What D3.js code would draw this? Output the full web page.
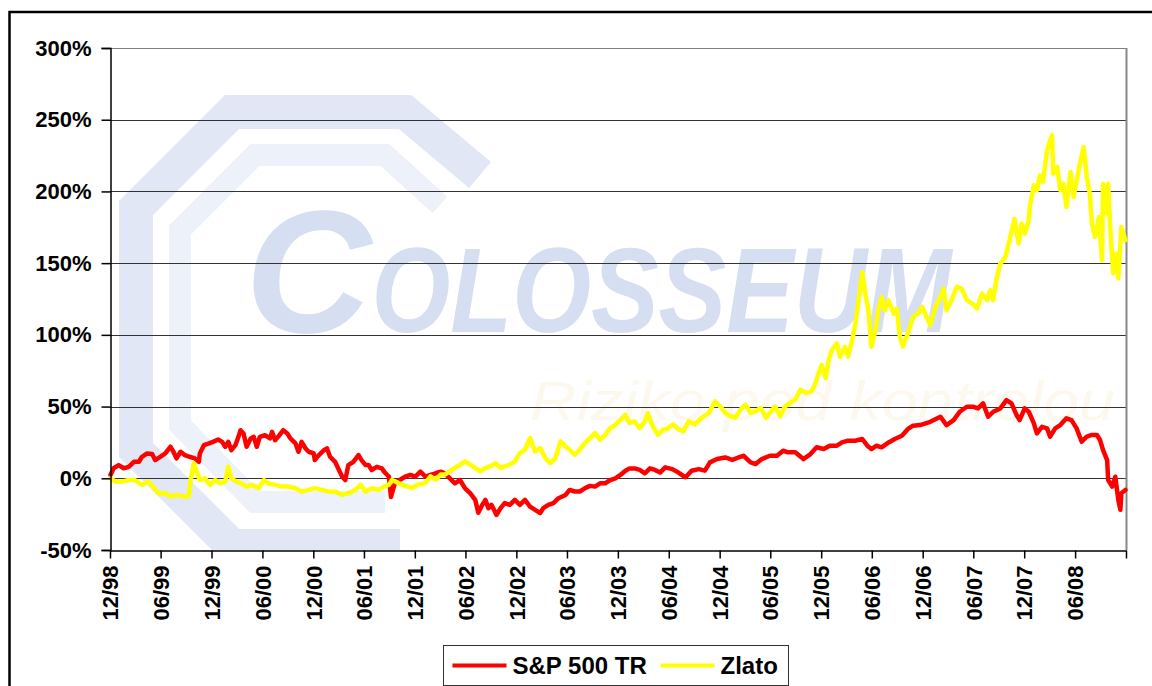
<!DOCTYPE html>
<html>
<head>
<meta charset="utf-8">
<script src="https://cdn.jsdelivr.net/npm/d3@7"></script>
<style>
  body { margin: 0; background: #fff; }
  svg { display: block; }
  text { font-family: "Liberation Sans", Arial, sans-serif; }
</style>
</head>
<body>
<svg id="chart" width="1152" height="686"></svg>
<script>
// values: [decimal year, % return]
var spxPoints = [
  [1998.92,2.3],[1998.95,7],[1999.00,9.2],[1999.05,7],[1999.10,8],[1999.15,11.5],[1999.20,11.5],[1999.23,15],
  [1999.28,17.3],[1999.33,16.9],[1999.36,12.7],[1999.41,15],[1999.46,17.3],[1999.51,22],[1999.54,18.5],[1999.57,13.9],
  [1999.61,18.5],[1999.65,16.2],[1999.70,15],[1999.75,13.9],[1999.79,11.5],[1999.80,17.3],[1999.84,23.1],[1999.89,24.3],
  [1999.93,25.4],[1999.98,27],[2000.02,25.4],[2000.05,22],[2000.08,25.4],[2000.11,19.6],[2000.15,23.1],[2000.18,28.9],
  [2000.20,33.5],[2000.23,31.2],[2000.26,22],[2000.30,27.8],[2000.33,28.9],[2000.36,22],[2000.39,28.9],[2000.44,30],
  [2000.49,27.8],[2000.51,32.4],[2000.54,26.6],[2000.57,28.9],[2000.62,33.5],[2000.66,31.2],[2000.69,27.8],[2000.74,24.3],
  [2000.77,18.5],[2000.80,25.4],[2000.84,20.8],[2000.87,18.5],[2000.92,17.3],[2000.93,12.7],[2000.97,16.2],[2001.02,19.6],
  [2001.05,20.8],[2001.08,15],[2001.13,11.5],[2001.16,6.9],[2001.20,1.1],[2001.23,-1.2],[2001.26,9.2],[2001.31,11.5],
  [2001.36,16.2],[2001.39,12.7],[2001.43,9.2],[2001.46,9.2],[2001.49,5.8],[2001.54,8],[2001.59,6.9],[2001.62,4],
  [2001.66,1.1],[2001.68,-13],[2001.72,-3],[2001.77,-1],[2001.82,1.1],[2001.87,2.3],[2001.92,1.1],[2001.97,4.6],
  [2002.02,1.1],[2002.07,2.3],[2002.12,3.5],[2002.17,4.6],[2002.21,3.5],[2002.26,0],[2002.31,-3.5],[2002.36,-1.2],
  [2002.41,-7],[2002.46,-10.4],[2002.51,-15],[2002.54,-24],[2002.58,-18.5],[2002.61,-15],[2002.64,-20.8],[2002.67,-18.5],
  [2002.72,-25.5],[2002.76,-20.8],[2002.80,-17.3],[2002.85,-18.5],[2002.90,-15],[2002.95,-18.5],[2003.00,-15],[2003.05,-19.7],
  [2003.10,-22],[2003.15,-24.3],[2003.18,-20.8],[2003.23,-18.5],[2003.28,-17.3],[2003.33,-13.9],[2003.40,-11.6],[2003.44,-8.1],
  [2003.49,-9.2],[2003.54,-9.2],[2003.59,-7],[2003.64,-5.3],[2003.69,-5.8],[2003.74,-3.5],[2003.79,-3.5],[2003.84,-1.2],
  [2003.89,0],[2003.94,2.3],[2003.99,5.3],[2004.03,6.9],[2004.08,6.9],[2004.13,5.8],[2004.18,3.5],[2004.23,6.9],
  [2004.28,5.8],[2004.33,4],[2004.38,7.6],[2004.45,6.4],[2004.51,4],[2004.58,0.7],[2004.64,5.3],[2004.71,6.4],
  [2004.77,5.3],[2004.82,11.1],[2004.89,13.4],[2004.97,14.5],[2005.04,12.8],[2005.10,14.5],[2005.15,15.7],[2005.22,11.1],
  [2005.27,9.9],[2005.33,13.4],[2005.41,15.7],[2005.48,15.7],[2005.54,19.2],[2005.59,18.1],[2005.66,18.1],[2005.74,13.4],
  [2005.81,16.9],[2005.87,21.6],[2005.94,20.4],[2006.00,22.7],[2006.07,22.7],[2006.12,25],[2006.18,26.2],[2006.25,26.2],
  [2006.32,27.4],[2006.37,22.7],[2006.41,20.4],[2006.46,22.7],[2006.51,21.6],[2006.58,25],[2006.64,27.4],[2006.71,29.7],
  [2006.77,34.4],[2006.82,36.7],[2006.89,37.1],[2006.99,39.4],[2007.09,42.9],[2007.15,37.1],[2007.22,40.6],[2007.28,46.4],
  [2007.35,49.9],[2007.41,49.9],[2007.46,48.7],[2007.51,52.2],[2007.56,42.9],[2007.61,46.4],[2007.68,48.7],[2007.74,54.5],
  [2007.79,52.2],[2007.84,44.1],[2007.87,40.6],[2007.92,48.7],[2007.96,46.4],[2008.01,38.3],[2008.04,31.3],[2008.09,35.9],
  [2008.14,34.8],[2008.17,29],[2008.22,34.8],[2008.27,37.1],[2008.33,41.8],[2008.38,40.6],[2008.43,34.8],[2008.48,25.5],
  [2008.53,29],[2008.58,30.2],[2008.63,30.2],[2008.66,26.7],[2008.69,19.7],[2008.73,12.7],[2008.74,-1.2],[2008.78,-5.8],
  [2008.81,1.1],[2008.84,-15.1],[2008.86,-22],[2008.87,-10.4],[2008.91,-8.1]
];

var goldPoints = [
  [1998.92,0],[1998.97,-2.3],[1999.03,-2.3],[1999.10,-1.2],[1999.16,-1.2],[1999.23,-4.6],[1999.29,-2.3],[1999.34,-5.8],
  [1999.39,-10.4],[1999.46,-10.4],[1999.51,-12.7],[1999.57,-11.6],[1999.64,-12.7],[1999.69,-12.7],[1999.71,-1.2],[1999.74,10.4],
  [1999.77,4.6],[1999.80,-1.2],[1999.85,0],[1999.90,-4.6],[1999.95,-1.2],[2000.00,-3.5],[2000.05,-2.3],[2000.08,8.1],
  [2000.11,0],[2000.16,-2.3],[2000.21,-3.5],[2000.26,-5.8],[2000.31,-4.6],[2000.38,-6.9],[2000.43,-1.2],[2000.47,-3.5],
  [2000.54,-4.6],[2000.61,-5.8],[2000.67,-5.8],[2000.74,-6.9],[2000.80,-9.3],[2000.87,-8.1],[2000.93,-6.9],[2001.00,-8.1],
  [2001.07,-9.3],[2001.13,-9.3],[2001.20,-11.6],[2001.26,-10.4],[2001.33,-8.1],[2001.38,-4.6],[2001.43,-9.3],[2001.49,-6.9],
  [2001.56,-8.1],[2001.61,-5.8],[2001.66,-4.6],[2001.69,-1.2],[2001.75,-3.2],[2001.82,-5.5],[2001.89,-6.7],[2001.95,-4.4],
  [2002.02,-3.2],[2002.07,1.4],[2002.12,-0.9],[2002.17,2.6],[2002.21,2.6],[2002.26,4.9],[2002.31,7.2],[2002.36,9.5],
  [2002.41,11.8],[2002.46,9.5],[2002.51,7.2],[2002.56,4.9],[2002.61,7.2],[2002.66,8.3],[2002.71,10.6],[2002.76,7.2],
  [2002.80,8.3],[2002.85,9.5],[2002.90,11.8],[2002.95,17.6],[2003.00,19.9],[2003.05,28],[2003.10,18.7],[2003.15,21.1],
  [2003.20,14.1],[2003.25,10.6],[2003.30,14.1],[2003.35,25.7],[2003.40,22.2],[2003.44,19.9],[2003.49,16.4],[2003.54,19.9],
  [2003.59,24.5],[2003.64,28],[2003.69,31.5],[2003.74,26.8],[2003.79,30.3],[2003.84,34.9],[2003.89,37.3],[2003.94,40.7],
  [2003.99,44.2],[2004.03,38.4],[2004.08,39.6],[2004.13,34.9],[2004.18,39.6],[2004.21,45.4],[2004.26,36.1],[2004.31,30.3],
  [2004.36,33.8],[2004.39,34.1],[2004.46,37.6],[2004.51,34.1],[2004.56,32.9],[2004.61,39.8],[2004.67,37.6],[2004.74,42.2],
  [2004.81,45.6],[2004.87,53.7],[2004.92,50.2],[2004.97,45.6],[2005.02,43.3],[2005.07,42.2],[2005.12,47.9],[2005.17,51.4],
  [2005.22,45.6],[2005.27,46.8],[2005.32,49.1],[2005.37,42.2],[2005.41,45.6],[2005.46,50.2],[2005.51,43.3],[2005.56,50.2],
  [2005.61,52.6],[2005.66,54.8],[2005.71,61.8],[2005.77,59.5],[2005.82,60.6],[2005.86,66.4],[2005.89,73.3],[2005.92,79.1],
  [2005.96,69.9],[2005.99,82.5],[2006.02,89.4],[2006.07,94.1],[2006.10,84.8],[2006.15,91.7],[2006.18,84.8],[2006.22,96.3],
  [2006.25,106.7],[2006.28,121.7],[2006.32,143.6],[2006.35,128.6],[2006.38,117.1],[2006.41,91.7],[2006.45,103.3],[2006.48,118.3],
  [2006.51,126.3],[2006.54,117.1],[2006.58,124],[2006.63,114.8],[2006.66,118.3],[2006.69,98.6],[2006.72,92],[2006.77,101],
  [2006.82,112.5],[2006.87,114.9],[2006.91,119.5],[2006.96,111.4],[2006.99,106.8],[2007.04,119.5],[2007.09,126.5],[2007.12,132.3],
  [2007.15,117.2],[2007.20,124.2],[2007.25,133.4],[2007.30,132.3],[2007.35,124.2],[2007.40,121.9],[2007.45,118.4],[2007.50,128.8],
  [2007.55,124.2],[2007.58,131.1],[2007.61,124.2],[2007.64,138.1],[2007.68,149.7],[2007.73,154.3],[2007.77,166],[2007.82,181],
  [2007.86,163.6],[2007.89,177.6],[2007.92,170.6],[2007.96,179.9],[2007.97,189.1],[2008.01,204.3],[2008.04,200.8],[2008.07,211.2],
  [2008.10,206.6],[2008.14,228.6],[2008.17,235.6],[2008.19,239.1],[2008.20,212.4],[2008.24,217],[2008.27,200.8],[2008.30,205.4],
  [2008.33,189.1],[2008.37,213.5],[2008.40,196.1],[2008.43,207.7],[2008.47,221.7],[2008.50,230.9],[2008.53,210],[2008.56,198.5],
  [2008.58,177.6],[2008.61,168.3],[2008.65,182.2],[2008.68,152],[2008.69,205.4],[2008.73,184.5],[2008.74,205.4],[2008.76,175.2],
  [2008.79,142.8],[2008.82,156.7],[2008.84,139.3],[2008.87,175.2],[2008.91,166]
];

var seriesNames = ["S&P 500 TR", "Zlato"];
var seriesColors = ["#ff0000", "#ffff00"];

var yTicks = [-50, 0, 50, 100, 150, 200, 250, 300];
var xTickLabels = ["12/98","06/99","12/99","06/00","12/00","06/01","12/01","06/02","12/02","06/03",
                   "12/03","06/04","12/04","06/05","12/05","06/06","12/06","06/07","12/07","06/08"];
var xEndLabel = "12/08"; // last tick, drawn without label

// decimal year -> Date
function toDate (yr) {
    var y0 = Math.floor(yr);
    var a = new Date(y0, 0, 1), b = new Date(y0 + 1, 0, 1);
    return new Date(+a + (yr - y0) * (b - a));
}
function labelToDate (s) {
    var p = s.split("/");
    return new Date(1900 + (+p[1] < 50 ? 100 : 0) + (+p[1]), +p[0] - 1, 1);
}

var svg = d3.select("#chart");

var plotLeft = 110, plotRight = 1126, plotTop = 48, plotBottom = 550;

var x = d3.scaleTime()
    .domain([labelToDate(xTickLabels[0]), labelToDate(xEndLabel)])
    .range([plotLeft, plotRight]);

var y = d3.scaleLinear()
    .domain([-50, 300])
    .range([plotBottom, plotTop]);

// outer frame
svg.append("rect")
    .attr("x", 9.5).attr("y", 12)
    .attr("width", 1200).attr("height", 700)
    .attr("fill", "#fff")
    .attr("stroke", "#000")
    .attr("stroke-width", 2.5);

svg.append("clipPath").attr("id", "plot-clip")
    .append("rect")
        .attr("x", plotLeft).attr("y", plotTop)
        .attr("width", plotRight - plotLeft).attr("height", plotBottom - plotTop);

// watermark logo (rough)
var wm = svg.append("g").attr("class", "watermark").attr("clip-path", "url(#plot-clip)");
wm.append("path")
    .attr("d", "M480,175 L405,112 L232,112 L136,208 L136,450 L232,546 L400,546")
    .attr("fill", "none")
    .attr("stroke", "#e1e7f5")
    .attr("stroke-width", 34);
wm.append("path")
    .attr("d", "M440,205 L385,155 L255,155 L180,230 L180,425 L255,502 L385,502")
    .attr("fill", "none")
    .attr("stroke", "#edf1f9")
    .attr("stroke-width", 22);
var wmText = wm.append("text")
    .attr("x", 245).attr("y", 332)
    .attr("font-weight", "bold")
    .attr("font-style", "italic")
    .attr("fill", "#d6def1");
wmText.append("tspan").attr("font-size", 175).text("C");
wmText.append("tspan").attr("font-size", 120)
    .attr("textLength", 580).attr("lengthAdjust", "spacingAndGlyphs")
    .text("OLOSSEUM");
wm.append("text")
    .attr("x", 530).attr("y", 420)
    .attr("font-style", "italic")
    .attr("font-size", 56)
    .attr("fill", "#fdf8ee")
    .attr("textLength", 585).attr("lengthAdjust", "spacingAndGlyphs")
    .text("Riziko pod kontrolou");

// grid lines
svg.append("g")
    .selectAll("line")
    .data(yTicks.filter(function (d) { return d > -50; }))
    .enter().append("line")
        .attr("x1", plotLeft).attr("x2", plotRight)
        .attr("y1", function (d) { return Math.round(y(d)) + 0.5; })
        .attr("y2", function (d) { return Math.round(y(d)) + 0.5; })
        .attr("stroke", function (d) { return d === 300 ? "#808080" : "#333"; })
        .attr("stroke-width", 1);

// right border of plot area
svg.append("line")
    .attr("x1", plotRight + 0.5).attr("x2", plotRight + 0.5)
    .attr("y1", plotTop).attr("y2", plotBottom)
    .attr("stroke", "#888")
    .attr("stroke-width", 2);

// lines
var line = d3.line()
    .x(function (d) { return x(toDate(d[0])); })
    .y(function (d) { return y(d[1]); });

[spxPoints, goldPoints].forEach(function (pts, i) {
    svg.append("path")
        .datum(pts)
        .attr("fill", "none")
        .attr("stroke", seriesColors[i])
        .attr("stroke-width", 4.5)
        .attr("stroke-linejoin", "round")
        .attr("stroke-linecap", "round")
        .attr("d", line);
});

// y axis
var yAxis = svg.append("g")
    .attr("transform", "translate(" + (plotLeft + 0.5) + ",0)")
    .call(d3.axisLeft(y)
        .tickValues(yTicks)
        .tickSize(9)
        .tickPadding(10)
        .tickFormat(function (d) { return d + "%"; }));
yAxis.select(".domain").attr("stroke", "#000").attr("stroke-width", 1.5);
yAxis.selectAll("line").attr("stroke", "#000").attr("stroke-width", 1.5);
yAxis.selectAll("text")
    .attr("font-family", "'Liberation Sans', Arial, sans-serif")
    .attr("font-size", 22)
    .attr("font-weight", "bold")
    .attr("fill", "#000");

// x axis
var xTickDates = xTickLabels.map(labelToDate).concat([labelToDate(xEndLabel)]);
var xAxis = svg.append("g")
    .attr("transform", "translate(0," + (plotBottom + 0.5) + ")")
    .call(d3.axisBottom(x)
        .tickValues(xTickDates)
        .tickSize(8)
        .tickSizeOuter(0)
        .tickFormat(function (d, i) { return i < xTickLabels.length ? xTickLabels[i] : ""; }));
xAxis.select(".domain").attr("stroke", "#000").attr("stroke-width", 1.5);
xAxis.selectAll("line").attr("stroke", "#000").attr("stroke-width", 1.5);
xAxis.selectAll("text")
    .attr("font-family", "'Liberation Sans', Arial, sans-serif")
    .attr("font-size", 22)
    .attr("font-weight", "bold")
    .attr("fill", "#000")
    .attr("transform", "rotate(-90)")
    .attr("text-anchor", "end")
    .attr("x", -15)
    .attr("y", 0)
    .attr("dy", "0.35em");

// legend
var legend = svg.append("g").attr("transform", "translate(443.5,645.5)");
legend.append("rect")
    .attr("width", 345).attr("height", 40)
    .attr("fill", "#fff")
    .attr("stroke", "#333")
    .attr("stroke-width", 1);
var legendX = [[9, 69], [217, 277]];
seriesNames.forEach(function (name, i) {
    legend.append("line")
        .attr("x1", legendX[i][0]).attr("x2", legendX[i][0] + 54)
        .attr("y1", 20).attr("y2", 20)
        .attr("stroke", seriesColors[i])
        .attr("stroke-width", 4);
    legend.append("text")
        .attr("x", legendX[i][1]).attr("y", 28)
        .attr("font-size", 24)
        .attr("font-weight", "bold")
        .attr("fill", "#000")
        .text(name);
});
</script>
</body>
</html>
